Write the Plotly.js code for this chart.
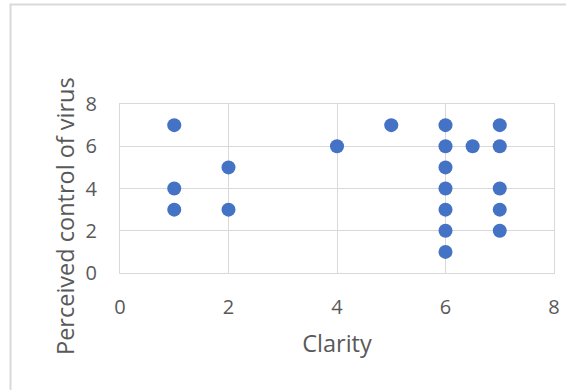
<!DOCTYPE html>
<html>
<head>
<meta charset="utf-8">
<script src="https://cdn.plot.ly/plotly-3.0.1.min.js"></script>
<style>
html,body{margin:0;padding:0;background:#fff;}
#chart{width:566px;height:390px;}
</style>
</head>
<body>
<div id="chart"></div>
<script>
const clarity = [1, 1, 1, 2, 2, 4, 5, 6, 6, 6, 6, 6, 6, 6, 6.5, 7, 7, 7, 7, 7];
const perceivedControl = [7, 4, 3, 5, 3, 6, 7, 7, 6, 5, 4, 3, 2, 1, 6, 7, 6, 4, 3, 2];
const xTicks = [0, 2, 4, 6, 8];
const yTicks = [0, 2, 4, 6, 8];
const xTitle = 'Clarity';
const yTitle = 'Perceived control of virus';

const fontFam = '"Open Sans", "Liberation Sans", sans-serif';
const txt = '#595959';
const grid = '#d9d9d9';

const trace = {
  x: clarity, y: perceivedControl, type: 'scatter', mode: 'markers',
  marker: {color: '#4472C4', size: 14},
  hoverinfo: 'none'
};

const layout = {
  width: 566, height: 390,
  margin: {l: 120, r: 12, t: 104, b: 117, pad: 0},
  paper_bgcolor: '#fff', plot_bgcolor: '#fff',
  showlegend: false,
  font: {family: fontFam, color: txt},
  xaxis: {
    range: [0, 8], tickvals: xTicks, ticktext: xTicks.map(String),
    showgrid: true, gridcolor: grid, gridwidth: 1,
    showline: true, linecolor: grid, linewidth: 1, mirror: true,
    zeroline: false, ticks: '', ticklabelstandoff: 16,
    tickfont: {size: 20, color: txt, family: fontFam},
    title: {text: xTitle, font: {size: 23.5, color: txt, family: fontFam}, standoff: 16},
    fixedrange: true
  },
  yaxis: {
    range: [0, 8], tickvals: yTicks, ticktext: yTicks.map(String),
    showgrid: true, gridcolor: grid, gridwidth: 1,
    showline: true, linecolor: grid, linewidth: 1, mirror: true,
    zeroline: false, ticks: '', ticklabelstandoff: 18,
    tickfont: {size: 20, color: txt, family: fontFam},
    fixedrange: true
  },
  annotations: [{
    text: yTitle, xref: 'paper', yref: 'paper',
    x: (65 - 120) / 434, y: (273 - 216) / 169,
    xanchor: 'center', yanchor: 'middle', textangle: -90, showarrow: false,
    font: {size: 23.5, color: txt, family: fontFam}
  }],
  shapes: [{
    type: 'rect', xref: 'paper', yref: 'paper',
    x0: (10.5 - 120) / 434, x1: (600 - 120) / 434,
    y0: (273 - 400) / 169, y1: (273 - 4.5) / 169,
    line: {color: grid, width: 2}, fillcolor: 'rgba(0,0,0,0)', layer: 'below'
  }]
};

Plotly.newPlot('chart', [trace], layout, {displayModeBar: false, staticPlot: true});
</script>
</body>
</html>
